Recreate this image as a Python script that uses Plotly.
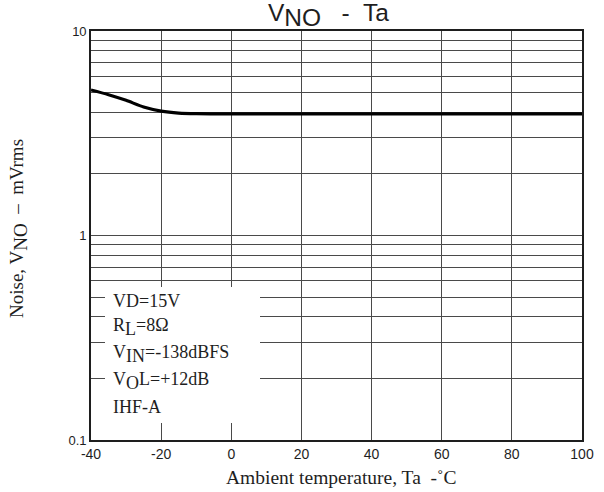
import plotly.graph_objects as go

# Ambient temperature (degC) vs output noise (mVrms)
temp = [-40, -35, -30, -25, -20, -15, -10, 0, 20, 40, 60, 80, 100]
noise = [5.15, 4.88, 4.58, 4.25, 4.06, 3.97, 3.94, 3.93, 3.93, 3.93, 3.93, 3.93, 3.93]

x_ticks = [-40, -20, 0, 20, 40, 60, 80, 100]
x_tick_text = ["-40", "-20", "0", "20", "40", "60", "80", "100"]
y_ticks = [0.1, 1, 10]
y_tick_text = ["0.1", "1", "10"]

# full-size "subscripts" like the datasheet: shifted down but not shrunk
def sub(s):
    return '<sub><span style="font-size:1.43em">' + s + '</span></sub>'

conditions = ["VD=15V", "R" + sub("L") + "=8Ω", "V" + sub("IN") + "=-138dBFS",
              "V" + sub("O") + "L=+12dB", "IHF-A"]

# page-pixel positions of the plot area
L, R, T, B = 91, 582, 31, 440
W, H = 604, 492


def px(x):
    return (x - L) / (R - L)


def py(y):
    return (B - y) / (B - T)


grid = "#4a4a4a"
ink = "#1e1e1e"

fig = go.Figure()
fig.add_trace(go.Scatter(
    x=temp, y=noise, mode="lines",
    line=dict(color="black", width=3.2, shape="spline", smoothing=0.8),
    showlegend=False, hoverinfo="skip"
))

# white box behind the test conditions
fig.add_shape(type="rect", xref="paper", yref="paper",
              x0=px(105), x1=px(260), y0=py(423), y1=py(287),
              fillcolor="white", line=dict(width=0), layer="above")

for i, txt in enumerate(conditions):
    fig.add_annotation(
        text=txt, xref="paper", yref="paper",
        x=px(111), y=py(301 + i * 26.5),
        xanchor="left", yanchor="middle", showarrow=False,
        font=dict(family="Liberation Serif", size=18, color=ink)
    )

# title and axis titles
fig.add_annotation(text="V" + sub("NO") + "   -  Ta", xref="paper", yref="paper",
                   x=px(328), y=py(15), xanchor="center", yanchor="middle",
                   showarrow=False,
                   font=dict(family="Liberation Sans", size=24.5, color=ink))
fig.add_annotation(text="Ambient temperature, Ta  -˚C", xref="paper", yref="paper",
                   x=px(341), y=py(477), xanchor="center", yanchor="middle",
                   showarrow=False,
                   font=dict(family="Liberation Serif", size=19.5, color=ink))
fig.add_annotation(text="Noise, V" + sub("NO") + "  –  mVrms", xref="paper", yref="paper",
                   x=px(18), y=py(229), xanchor="center", yanchor="middle",
                   textangle=-90, showarrow=False,
                   font=dict(family="Liberation Serif", size=19, color=ink))

fig.update_xaxes(
    range=[-40, 100], tickvals=x_ticks, ticktext=x_tick_text, ticks="",
    showgrid=True, gridcolor=grid, gridwidth=1.3,
    showline=True, linecolor=ink, linewidth=1.6, mirror=True,
    zeroline=False,
    tickfont=dict(family="Liberation Sans", size=14, color=ink)
)
fig.update_yaxes(
    type="log", range=[-1, 1], tickvals=y_ticks, ticktext=y_tick_text, ticks="",
    showgrid=True, gridcolor=grid, gridwidth=1.3,
    minor=dict(showgrid=True, gridcolor=grid, gridwidth=1.3, dtick="D1", ticks=""),
    showline=True, linecolor=ink, linewidth=1.6, mirror=True,
    zeroline=False,
    tickfont=dict(family="Liberation Sans", size=13, color=ink)
)

fig.update_layout(
    width=W, height=H,
    margin=dict(l=L, r=W - R, t=T, b=H - B, autoexpand=False),
    plot_bgcolor="white", paper_bgcolor="white"
)

# drop the default page margin so the figure sits at the window corner
fig.write_html("out.html", config={"displayModeBar": False},
               post_script="document.body.style.margin='0';")
